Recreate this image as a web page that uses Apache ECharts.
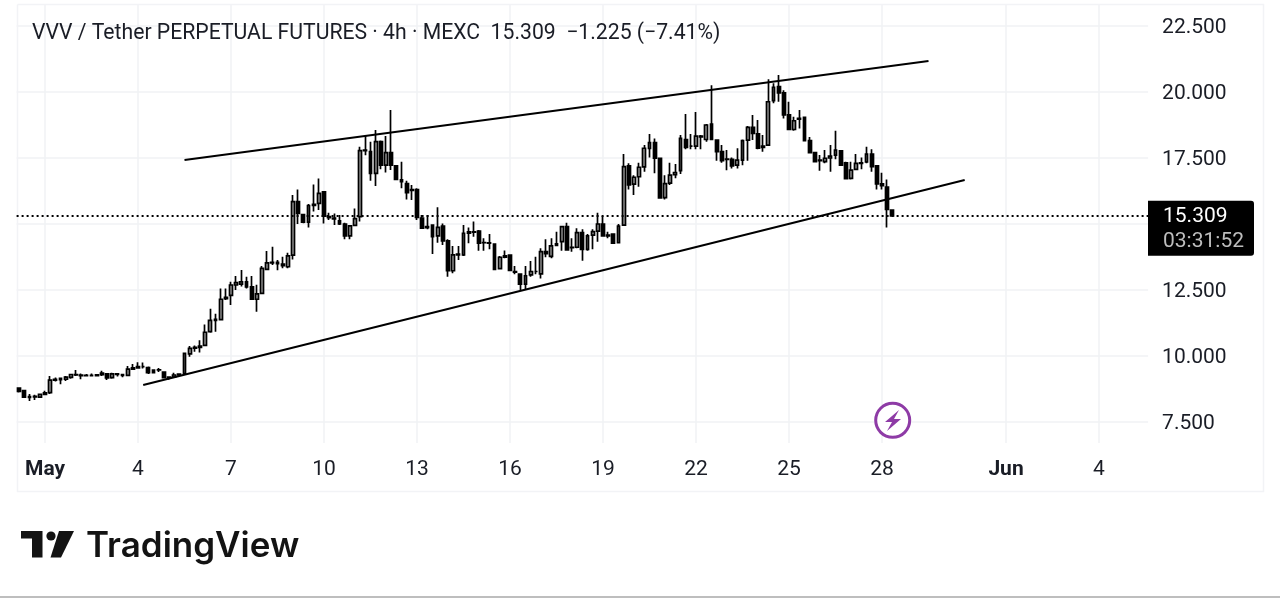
<!DOCTYPE html>
<html>
<head>
<meta charset="utf-8">
<title>VVV / Tether PERPETUAL FUTURES</title>
<script src="https://cdn.jsdelivr.net/npm/echarts@6/dist/echarts.min.js"></script>
<style>
  html, body { margin: 0; padding: 0; background: #fff; }
  #chart { width: 1280px; height: 598px; }
</style>
</head>
<body>
<div id="chart"></div>
<script>
// 4h candles, first one is Apr 30 04:00
var opens = [
  8.78, 8.69, 8.46, 8.47, 8.44, 8.55, 8.61, 9.09, 9.10, 9.12,
  9.19, 9.30, 9.28, 9.26, 9.27, 9.26, 9.29, 9.32, 9.18, 9.32,
  9.30, 9.27, 9.50, 9.55, 9.60, 9.56, 9.47, 9.47, 9.39, 9.20,
  9.20, 9.28, 9.33, 10.08, 10.30, 10.33, 10.40, 10.92, 11.35, 11.38,
  12.17, 12.30, 12.69, 12.72, 12.81, 12.62, 12.15, 12.37, 13.28, 13.53,
  13.55, 13.48, 13.38, 13.82, 15.85, 15.36, 15.07, 15.70, 15.78, 16.22,
  15.28, 15.22, 15.12, 15.00, 14.55, 14.95, 15.28, 17.78, 17.74, 16.92,
  18.12, 17.23, 17.70, 17.20, 16.67, 16.53, 16.30, 16.30, 15.22, 14.90,
  14.96, 14.55, 14.92, 14.36, 13.23, 13.83, 13.83, 14.65, 14.70, 14.73,
  14.30, 14.29, 14.24, 13.31, 13.74, 13.82, 13.20, 13.10, 12.72, 13.07,
  13.20, 13.11, 13.95, 13.77, 14.19, 14.33, 14.90, 14.10, 14.12, 14.67,
  14.04, 14.58, 14.73, 15.00, 14.55, 14.62, 14.29, 14.96, 17.20, 16.51,
  16.79, 17.16, 17.86, 18.08, 17.49, 16.00, 16.55, 16.87, 17.02, 18.20,
  17.95, 17.95, 18.33, 18.20, 18.78, 18.18, 17.74, 17.45, 17.45, 17.23,
  17.42, 18.18, 18.66, 18.41, 17.95, 17.99, 19.67, 20.20, 19.97, 19.13,
  18.58, 18.97, 19.04, 18.16, 17.70, 17.40, 17.36, 17.50, 17.61, 17.77,
  17.32, 16.73, 17.07, 17.30, 17.35, 17.65, 17.20, 16.52, 16.40, 15.53
];
var closes = [
  8.66, 8.44, 8.43, 8.45, 8.55, 8.60, 9.09, 9.12, 9.15, 9.20,
  9.30, 9.28, 9.26, 9.27, 9.26, 9.29, 9.35, 9.17, 9.32, 9.30,
  9.27, 9.50, 9.55, 9.60, 9.60, 9.37, 9.37, 9.48, 9.18, 9.17,
  9.28, 9.31, 10.10, 10.29, 10.33, 10.38, 10.90, 11.35, 11.39, 12.15,
  12.22, 12.69, 12.78, 12.81, 12.62, 12.15, 12.35, 13.32, 13.53, 13.55,
  13.50, 13.42, 13.79, 15.85, 15.40, 15.07, 15.70, 15.74, 16.16, 15.30,
  15.24, 15.19, 15.00, 14.55, 14.93, 15.20, 17.78, 17.80, 16.92, 18.12,
  17.23, 17.70, 17.23, 16.69, 16.60, 16.19, 16.27, 15.25, 14.84, 14.86,
  14.52, 14.87, 14.36, 13.23, 13.83, 13.86, 14.65, 14.70, 14.69, 14.27,
  14.29, 14.27, 13.28, 13.74, 13.79, 13.24, 13.18, 12.72, 13.04, 13.20,
  13.20, 13.95, 13.88, 14.17, 14.25, 14.90, 14.02, 14.12, 14.67, 14.04,
  14.55, 14.71, 15.00, 14.55, 14.58, 14.27, 14.92, 17.17, 16.48, 16.77,
  17.15, 17.87, 18.08, 17.49, 15.99, 16.53, 16.85, 16.95, 18.24, 17.90,
  17.95, 18.33, 18.30, 18.75, 18.20, 17.74, 17.40, 17.46, 17.20, 17.42,
  18.16, 18.66, 18.43, 17.87, 17.90, 19.63, 20.18, 19.97, 19.13, 18.58,
  18.91, 19.00, 18.16, 17.70, 17.36, 17.42, 17.49, 17.57, 17.80, 17.23,
  16.72, 17.04, 17.30, 17.32, 17.65, 17.17, 16.52, 16.45, 15.55, 15.31
];
var lows = [
  8.62, 8.42, 8.30, 8.33, 8.42, 8.52, 8.56, 9.03, 8.93, 9.05,
  9.14, 9.24, 9.12, 9.22, 9.22, 9.22, 9.24, 9.09, 9.14, 9.22,
  9.20, 9.24, 9.47, 9.53, 9.53, 9.32, 9.34, 9.39, 9.16, 9.10,
  9.19, 9.24, 9.30, 9.97, 10.16, 10.13, 10.38, 10.88, 10.92, 11.36,
  12.12, 11.93, 12.50, 12.63, 12.56, 12.14, 11.68, 12.35, 13.25, 13.45,
  13.25, 13.32, 13.32, 13.66, 15.00, 15.03, 14.87, 15.47, 15.53, 15.02,
  15.15, 14.96, 14.96, 14.42, 14.42, 14.93, 15.09, 17.60, 16.64, 16.44,
  17.07, 16.95, 17.05, 16.67, 16.35, 15.93, 15.91, 15.15, 14.82, 14.80,
  13.86, 14.29, 14.20, 13.00, 13.13, 13.64, 13.79, 14.27, 14.52, 13.99,
  13.99, 14.04, 13.26, 13.28, 13.70, 13.22, 13.10, 12.50, 12.52, 13.00,
  13.10, 12.94, 13.74, 13.70, 14.17, 13.99, 13.99, 13.95, 14.08, 13.61,
  13.99, 14.04, 14.33, 14.52, 14.46, 14.24, 14.27, 14.92, 16.31, 16.10,
  16.41, 16.98, 17.52, 16.92, 15.97, 15.93, 16.48, 16.73, 16.89, 17.83,
  17.83, 17.83, 17.83, 18.12, 18.20, 17.40, 17.32, 17.04, 17.10, 17.10,
  17.23, 17.40, 18.18, 17.83, 17.74, 17.95, 19.57, 19.63, 19.00, 18.58,
  18.53, 18.62, 18.15, 17.68, 17.33, 17.02, 17.30, 16.98, 17.45, 17.20,
  16.69, 16.69, 17.04, 17.07, 17.30, 16.98, 16.31, 16.31, 14.87, 15.29
];
var highs = [
  8.80, 8.70, 8.56, 8.53, 8.57, 8.68, 9.24, 9.19, 9.19, 9.24,
  9.32, 9.47, 9.34, 9.32, 9.34, 9.32, 9.44, 9.34, 9.37, 9.34,
  9.31, 9.62, 9.70, 9.76, 9.75, 9.60, 9.49, 9.55, 9.40, 9.23,
  9.37, 9.34, 10.12, 10.38, 10.40, 10.60, 11.19, 11.79, 11.60, 12.56,
  12.56, 12.81, 13.03, 13.26, 13.00, 13.03, 12.70, 13.41, 13.98, 14.14,
  13.64, 13.76, 13.91, 16.10, 16.31, 15.37, 15.76, 16.50, 16.72, 16.25,
  15.43, 15.40, 15.34, 15.05, 14.96, 15.59, 17.93, 18.33, 18.12, 18.56,
  18.16, 18.33, 19.32, 17.23, 17.36, 16.64, 16.48, 16.35, 15.34, 15.34,
  14.98, 15.63, 15.02, 14.42, 14.17, 14.17, 14.96, 14.87, 15.09, 14.77,
  14.46, 14.62, 14.27, 13.79, 14.00, 13.82, 13.41, 13.13, 13.41, 13.60,
  13.76, 14.08, 14.42, 14.46, 14.71, 14.92, 15.05, 14.46, 14.84, 14.80,
  14.62, 14.80, 15.43, 15.30, 14.71, 14.64, 15.00, 17.65, 17.30, 16.85,
  17.32, 17.99, 18.41, 18.24, 17.49, 16.85, 17.32, 17.27, 18.37, 19.17,
  18.41, 19.24, 18.37, 18.79, 20.26, 18.20, 17.99, 17.80, 17.52, 17.87,
  18.20, 18.71, 19.13, 18.94, 18.37, 20.48, 20.33, 20.64, 20.07, 19.63,
  19.06, 19.32, 19.06, 18.30, 17.72, 17.61, 17.80, 17.99, 18.53, 17.80,
  17.36, 17.36, 17.65, 17.52, 17.93, 17.83, 17.23, 16.94, 16.69, 15.53
];

var lastPrice = 15.309;
var countdown = '03:31:52';
var titleText = 'VVV / Tether PERPETUAL FUTURES · 4h · MEXC  15.309  −1.225 (−7.41%)';

// trend lines as [candle index, price]
var upperTrend = [[32, 17.42], [176, 21.17]];
var lowerTrend = [[24, 8.90], [183, 16.67]];

var priceTicks = [7.5, 10, 12.5, 15, 17.5, 20, 22.5];
var priceLabels = [7.5, 10, 12.5, 17.5, 20, 22.5];
var dateTickIndex = [5, 23, 41, 59, 77, 95, 113, 131, 149, 167, 191, 209];
var dateTickLabel = ['May', '4', '7', '10', '13', '16', '19', '22', '25', '28', 'Jun', '4'];
var slotCount = 219;

var slots = [];
for (var i = 0; i < slotCount; i++) {
    var d = new Date(Date.UTC(2025, 3, 30, 4) + i * 4 * 3600 * 1000);
    slots.push(d.toISOString().slice(5, 16));
}
var candles = opens.map(function (o, i) {
    return [o, closes[i], lows[i], highs[i]];
});
function isDateTick(index) {
    return dateTickIndex.indexOf(index) >= 0;
}

var font = 'Roboto, sans-serif';
var gridColor = '#f1f2f5';
var myChart = echarts.init(document.getElementById('chart'));

var option = {
    animation: false,
    backgroundColor: '#fff',
    title: {
        text: titleText,
        left: 27, top: 18,
        textStyle: { fontFamily: font, fontSize: 21.2, fontWeight: 'normal', color: '#1a1d26' }
    },
    grid: { left: 16.6, right: 131.9, top: 4.5, bottom: 155 },
    xAxis: {
        type: 'category',
        data: slots,
        boundaryGap: true,
        axisLine: { show: false },
        axisTick: { show: false, alignWithLabel: true, interval: function (index) { return isDateTick(index); } },
        splitLine: {
            show: true,
            alignWithLabel: true,
            interval: function (index) { return isDateTick(index); },
            lineStyle: { color: gridColor, width: 1.5 }
        },
        axisLabel: {
            interval: function (index) { return isDateTick(index); },
            margin: 16,
            fontFamily: font,
            fontSize: 21,
            color: '#1a1d26',
            formatter: function (value, index) {
                var label = dateTickLabel[dateTickIndex.indexOf(index)];
                return (label === 'May' || label === 'Jun') ? '{b|' + label + '}' : label;
            },
            rich: { b: { fontFamily: font, fontSize: 21, fontWeight: 'bold', color: '#1a1d26' } }
        }
    },
    yAxis: {
        type: 'value',
        position: 'right',
        min: 6.705,
        max: 23.314,
        axisLine: { show: false },
        axisTick: { show: false, customValues: priceTicks },
        splitLine: { show: true, lineStyle: { color: gridColor, width: 1.5 } },
        axisLabel: {
            customValues: priceLabels,
            margin: 14,
            formatter: function (v) { return '{v|' + v.toFixed(3) + '}'; },
            rich: { v: { fontFamily: font, fontSize: 21, color: '#1a1d26', padding: [4, 0, 0, 0] } }
        }
    },
    series: [
        {
            type: 'candlestick',
            data: candles,
            barWidth: 3.4,
            itemStyle: { color: '#a0a0a0', color0: '#000', borderColor: '#000', borderColor0: '#000', borderWidth: 1.7 },
            markLine: {
                silent: true,
                symbol: 'none',
                label: { show: false },
                lineStyle: { color: '#000', type: [2, 3], width: 2 },
                data: [{ yAxis: lastPrice }]
            }
        },
        {
            type: 'line', data: upperTrend, showSymbol: false, symbol: 'none', z: 5,
            lineStyle: { color: '#000', width: 2 }
        },
        {
            type: 'line', data: lowerTrend, showSymbol: false, symbol: 'none', z: 5,
            lineStyle: { color: '#000', width: 2 }
        }
    ]
};
myChart.setOption(option);

// price tag, frame, lightning badge, logo
var tagY = myChart.convertToPixel({ yAxisIndex: 0 }, lastPrice);
myChart.setOption({
    graphic: [
        { type: 'polyline', shape: { points: [[17.5, 4.5], [17.5, 491.5], [1263.5, 491.5], [1263.5, 4.5], [17.5, 4.5]] }, style: { stroke: '#f2f3f6', fill: null, lineWidth: 1.5 } },
        { type: 'line', shape: { x1: 0, y1: 597, x2: 1280, y2: 597 }, style: { stroke: '#a8a8a8', lineWidth: 1.5 } },
        { type: 'rect', z: 10, shape: { x: 1148, y: tagY - 15, width: 106, height: 55, r: [0, 3, 3, 0] }, style: { fill: '#000' } },
        { type: 'text', z: 11, style: { x: 1163, y: tagY + 1, text: String(lastPrice), fill: '#fff', font: '21px Roboto', textVerticalAlign: 'middle' } },
        { type: 'text', z: 11, style: { x: 1163, y: tagY + 26, text: countdown, fill: '#bdbdbd', font: '21px Roboto', textVerticalAlign: 'middle' } },
        { type: 'circle', z: 10, shape: { cx: 892.7, cy: 420.3, r: 17 }, style: { fill: '#fff', stroke: '#8e3ba6', lineWidth: 3 } },
        { type: 'polygon', z: 11, shape: { points: [[899, 410], [885, 422], [892, 422], [887, 431], [901, 419], [894, 419]] }, style: { fill: '#8e3ba6' } },
        { type: 'polygon', shape: { points: [[21, 531], [42.5, 531], [42.5, 557.5], [32, 557.5], [32, 538.5], [21, 538.5]] }, style: { fill: '#131313' } },
        { type: 'circle', shape: { cx: 51, cy: 536, r: 4.6 }, style: { fill: '#131313' } },
        { type: 'polygon', shape: { points: [[59, 531], [74, 531], [61, 557.5], [50.5, 557.5]] }, style: { fill: '#131313' } },
        { type: 'text', style: { x: 86, y: 546, text: 'TradingView', fill: '#131313', font: '600 35px Inter, Roboto', textVerticalAlign: 'middle' } }
    ]
});
</script>
</body>
</html>
